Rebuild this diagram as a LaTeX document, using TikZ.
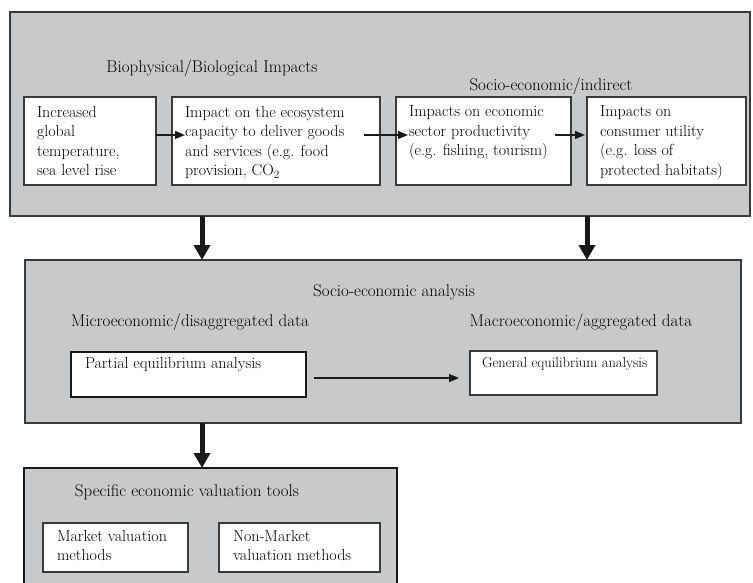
\documentclass[tikz,border=0pt]{standalone}
\usepackage{fontspec}
\setmainfont{Latin Modern Roman}
\usetikzlibrary{arrows.meta}

\definecolor{panelgray}{HTML}{C8C9CB}
\definecolor{edgegray}{HTML}{3A3A3A}

% top-aligned text block of fixed width and height
\newcommand{\cardbody}[3]{\parbox[c][#2][t]{#1}{\raggedright #3}}

\tikzset{
  txt/.style={font=\fontsize{16}{19.5}\selectfont},
  headtxt/.style={font=\fontsize{17}{20}\selectfont},
  panel/.style={draw=edgegray, fill=panelgray, line width=1.4pt, anchor=north west,
                inner sep=0pt, outer sep=0pt},
  heavypanel/.style={panel, draw=black!90, line width=2.8pt},
  card/.style={txt, draw=edgegray, fill=white, line width=1.4pt, anchor=north west,
               inner xsep=13pt, inner ysep=9pt, outer sep=0pt},
  heavycard/.style={card, draw=black!90, line width=2.8pt},
  heading/.style={headtxt, inner sep=0pt},
  bigarrow/.style={line width=5pt, black!90,
                   -{Triangle[width=16pt,length=15pt]}},
  thinarrow/.style={line width=1.2pt, black!90,
                    -{Triangle[width=8pt,length=10pt]}},
}

\begin{document}
\begin{tikzpicture}[x=1pt,y=-1pt]
  \useasboundingbox (0,0) rectangle (753,583);
  \fill[white] (0,0) rectangle (753,583);
  \clip (0,0) rectangle (753,583);

  % ---- impacts panel ----
  \node[panel, minimum width=740pt, minimum height=204pt] (impacts) at (10,12) {};
  \node[heading] (bio) at (212,68) {Biophysical/Biological Impacts};
  \node[heading] (socio) at (551,86) {Socio-economic/indirect};

  \node[card] (b1) at (24,97) {\cardbody{106pt}{70pt}{Increased\\ global\\ temperature,\\ sea level rise}};
  \node[card] (b2) at (172,97) {\cardbody{182pt}{70pt}{Impact on the ecosystem\\ capacity to deliver goods\\ and services (e.g. food\\ provision, CO\textsubscript{2}}};
  \node[card] (b3) at (396,97) {\cardbody{149pt}{70pt}{Impacts on economic\\ sector productivity\\ (e.g. fishing, tourism)}};
  \node[card] (b4) at (587,97) {\cardbody{133pt}{70pt}{Impacts on\\ consumer utility\\ (e.g. loss of\\ protected habitats)}};

  \coordinate (a1end) at (185,135);
  \coordinate (a2start) at (364,135);
  \coordinate (a2end) at (408,135);
  \coordinate (a3start) at (555,135);
  \coordinate (a3end) at (585,135);
  \draw[thinarrow] (b1.east |- a1end) -- (a1end);
  \draw[thinarrow] (a2start) -- (a2end);
  \draw[thinarrow] (a3start) -- (a3end);

  % ---- analysis panel ----
  \node[panel, minimum width=716pt, minimum height=163pt] (analysis) at (25,260) {};
  \node[heading] (sea) at (394,292) {Socio-economic analysis};
  \node[heading] (micro) at (190,322) {Microeconomic/disaggregated data};
  \node[heading] (macro) at (581,322) {Macroeconomic/aggregated data};

  \node[heavycard, inner xsep=14pt, inner ysep=5pt] (pea) at (71,352)
       {\cardbody{207pt}{35pt}{Partial equilibrium analysis}};
  \node[card, font=\fontsize{14.5}{19}\selectfont, inner xsep=12pt, inner ysep=6pt] (gea) at (470,351)
       {\cardbody{163pt}{32pt}{\mbox{General equilibrium analysis}}};

  \coordinate (pgstart) at (314,378);
  \coordinate (pgend) at (459,378);
  \draw[thinarrow] (pgstart) -- (pgend);

  \draw[bigarrow] (impacts.south -| 202,0) -- (analysis.north -| 202,0);
  \draw[bigarrow] (impacts.south -| 587,0) -- (analysis.north -| 587,0);

  % ---- valuation panel ----
  \node[heavypanel, minimum width=373pt, minimum height=140pt] (tools) at (24,468) {};
  \draw[bigarrow] (analysis.south -| 202,0) -- (tools.north -| 202,0);
  \node[heading] (spec) at (187,492) {Specific economic valuation tools};

  \node[card, inner xsep=14pt, inner ysep=7pt] (mkt) at (43,523)
       {\cardbody{117pt}{35pt}{Market valuation\\ methods}};
  \node[card, inner xsep=14pt, inner ysep=7pt] (nmkt) at (219,523)
       {\cardbody{133pt}{35pt}{Non-Market\\ valuation methods}};
\end{tikzpicture}
\end{document}
